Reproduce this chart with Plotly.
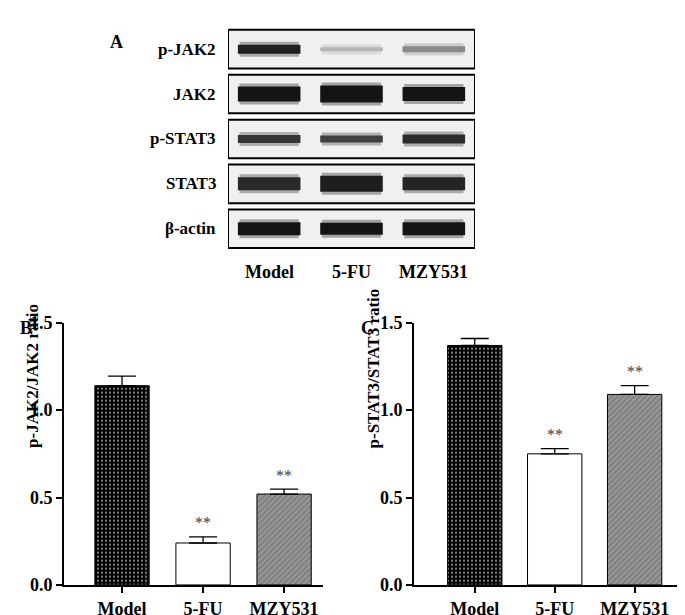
import plotly.graph_objects as go

groups = ['Model', '5-FU', 'MZY531']
jak_ratio = [1.14, 0.24, 0.52]
jak_err = [0.055, 0.035, 0.028]
stat_ratio = [1.37, 0.75, 1.09]
stat_err = [0.04, 0.03, 0.05]
stars_jak = ['', '**', '**']
stars_stat = ['', '**', '**']

proteins = ['p-JAK2', 'JAK2', 'p-STAT3', 'STAT3', 'β-actin']
# band darkness 0..1 per lane, and band thickness in px
band_dark = [[0.95, 0.25, 0.45],
             [1.0, 1.0, 1.0],
             [0.85, 0.8, 0.88],
             [0.9, 0.95, 0.92],
             [1.0, 1.0, 1.0]]
band_thick = [[9, 4, 6],
              [15, 17, 14],
              [8, 7, 9],
              [13, 16, 13],
              [13, 12, 13]]

FONT = 'Liberation Serif'
W, H = 685, 615
fig = go.Figure()

def px_x(p):
    return p / W

def px_y(p):
    return 1 - p / H

# blot panel
for i, prot in enumerate(proteins):
    for j in range(3):
        d = band_dark[i][j]
        g = int(235 - 215 * d)
        t = band_thick[i][j]
        # soft halo then core
        fig.add_trace(go.Scatter(
            x=[j + 0.14, j + 0.86], y=[i, i], mode='lines',
            line=dict(color=f'rgba({g},{g},{g},0.35)', width=t + 6),
            xaxis='x3', yaxis='y3', showlegend=False, hoverinfo='skip'))
        fig.add_trace(go.Scatter(
            x=[j + 0.12, j + 0.88], y=[i, i], mode='lines',
            line=dict(color=f'rgb({g},{g},{g})', width=t),
            xaxis='x3', yaxis='y3', showlegend=False, hoverinfo='skip'))
    fig.add_shape(type='rect', xref='x3', yref='y3', x0=0, x1=3,
                  y0=i - 0.43, y1=i + 0.43, line=dict(color='black', width=2),
                  fillcolor='rgb(240,240,240)', layer='below')
    fig.add_annotation(xref='paper', yref='y3', x=px_x(210), y=i, text=f'<b>{prot}</b>',
                       showarrow=False, xanchor='right', font=dict(family=FONT, size=17, color='black'))
for j, g in enumerate(groups):
    fig.add_annotation(xref='x3', yref='paper', x=j + 0.5, y=px_y(263), text=f'<b>{g}</b>',
                       showarrow=False, font=dict(family=FONT, size=18, color='black'))

colors = ['black', 'white', 'rgb(150,150,150)']

for xa, ya, vals, errs, stars, wd in [('x', 'y', jak_ratio, jak_err, stars_jak, 0.67),
                                      ('x2', 'y2', stat_ratio, stat_err, stars_stat, 0.68)]:
    fig.add_trace(go.Bar(
        x=groups, y=vals, xaxis=xa, yaxis=ya, width=wd,
        marker=dict(color=colors, pattern=dict(shape=['.', '', '/'], bgcolor=colors,
                                               fgcolor=['rgb(200,200,200)', 'white', 'rgb(225,225,225)'],
                                               size=4, solidity=0.25),
                    line=dict(color='black', width=1)),
        error_y=dict(type='data', array=errs, symmetric=False, arrayminus=[0, 0, 0],
                     color='black', thickness=1.3, width=14),
        showlegend=False))
    for g, v, e, s in zip(groups, vals, errs, stars):
        if s:
            fig.add_annotation(xref=xa, yref=ya, x=g, y=v + e + 0.02, text=s, showarrow=False,
                               yanchor='bottom', font=dict(family=FONT, size=16, color='rgb(60,60,60)'))

ax = dict(showline=True, linecolor='black', linewidth=2, ticks='outside', ticklen=6,
          tickwidth=2, tickcolor='black', showgrid=False, zeroline=False,
          tickfont=dict(family=FONT, size=18, color='black'))
yax = dict(ax, range=[0, 1.5], tickvals=[0, 0.5, 1.0, 1.5], ticktext=['<b>0.0</b>', '<b>0.5</b>', '<b>1.0</b>', '<b>1.5</b>'])
xax = dict(ax, ticktext=[f'<b>{g}</b>' for g in groups], tickvals=groups)

fig.update_layout(
    width=W, height=H, margin=dict(l=0, r=0, t=0, b=0),
    plot_bgcolor='white', paper_bgcolor='white',
    xaxis=dict(xax, domain=[px_x(56), px_x(315)], range=[-0.716, 2.48], anchor='y'),
    yaxis=dict(yax, domain=[px_y(586), px_y(315)], anchor='x'),
    xaxis2=dict(xax, domain=[px_x(406), px_x(681)], range=[-0.76, 2.68], anchor='y2'),
    yaxis2=dict(yax, domain=[px_y(586), px_y(315)], anchor='x2'),
    xaxis3=dict(domain=[px_x(220), px_x(467)], range=[0, 3], visible=False, anchor='y3'),
    yaxis3=dict(domain=[px_y(241), px_y(9)], range=[4.5, -0.5], visible=False, anchor='x3'),
)

for x, y, t in [(100, 12, 'A'), (10, 320, 'B'), (359, 320, 'C')]:
    fig.add_annotation(xref='paper', yref='paper', x=px_x(x), y=px_y(y), text=f'<b>{t}</b>',
                       showarrow=False, font=dict(family=FONT, size=18, color='black'))
for x, t in [(13, 'p-JAK2/JAK2 ratio'), (365, 'p-STAT3/STAT3 ratio')]:
    fig.add_annotation(xref='paper', yref='paper', x=px_x(x), y=px_y(447), text=f'<b>{t}</b>',
                       textangle=-90, showarrow=False, font=dict(family=FONT, size=17, color='black'))

fig.write_html('out.html')
